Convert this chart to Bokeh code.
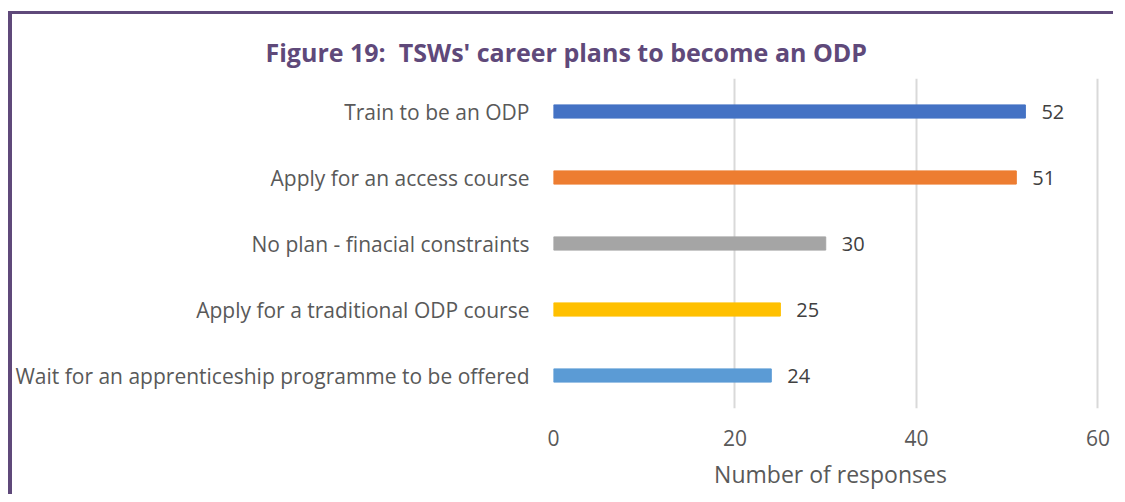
from bokeh.plotting import figure
from bokeh.models import ColumnDataSource, FactorRange, Range1d, FixedTicker
from bokeh.core.properties import value
from bokeh.embed import file_html
from bokeh.resources import INLINE

title_text = "Figure 19:\u00a0\u00a0TSWs' career plans to become an ODP"
categories = [
    "Train to be an ODP",
    "Apply for an access course",
    "No plan - finacial constraints",
    "Apply for a traditional ODP course",
    "Wait for an apprenticeship programme to be offered",
]
responses = [52, 51, 30, 25, 24]
bar_colors = ["#4472C4", "#ED7D31", "#A5A5A5", "#FFC000", "#5B9BD5"]
x_ticks = [0, 20, 40, 60]
x_label = "Number of responses"

FONT = "Open Sans"
TEXT = "#595959"
PURPLE = "#5F497A"

source = ColumnDataSource(dict(
    cat=categories,
    val=responses,
    color=bar_colors,
    lbl=[str(v) for v in responses],
))

p = figure(
    width=1105, height=483,
    y_range=FactorRange(*list(reversed(categories))),
    x_range=Range1d(0, 61.05),
    output_backend="svg", toolbar_location=None,
    min_border_left=541, min_border_right=10,
    min_border_top=64, min_border_bottom=89,
    styles={"border-left": f"4px solid {PURPLE}", "border-top": f"3px solid {PURPLE}",
            "margin-top": "11px", "margin-left": "8px"},
)
p.outline_line_color = None
p.background_fill_color = "white"
p.border_fill_color = "white"

p.title.text = title_text
p.title.align = "left"
p.title.offset = -288
p.title.standoff = 20
p.title.text_font = FONT
p.title.text_font_size = "25px"
p.title.text_font_style = "bold"
p.title.text_color = PURPLE

p.hbar(y="cat", right="val", left=0, height=0.2, color="color", source=source)

p.text(x="val", y="cat", text="lbl", source=source, x_offset=16,
       text_baseline="middle", text_align="left",
       text_font=value(FONT), text_font_size="20px", text_color="#404040")

p.xgrid.grid_line_color = "#D9D9D9"
p.xgrid.grid_line_width = 2
p.xgrid.ticker = FixedTicker(ticks=x_ticks)
p.ygrid.grid_line_color = None

p.xaxis.ticker = FixedTicker(ticks=x_ticks)
p.xaxis.axis_line_color = None
p.xaxis.major_tick_line_color = None
p.xaxis.minor_tick_line_color = None
p.xaxis.major_label_text_font = FONT
p.xaxis.major_label_text_font_size = "21px"
p.xaxis.major_label_text_color = TEXT
p.xaxis.major_label_standoff = 15
p.xaxis.axis_label = x_label
p.xaxis.axis_label_text_font = FONT
p.xaxis.axis_label_text_font_size = "23px"
p.xaxis.axis_label_text_font_style = "normal"
p.xaxis.axis_label_text_color = TEXT
p.xaxis.axis_label_standoff = 9

p.yaxis.axis_line_color = None
p.yaxis.major_tick_line_color = None
p.yaxis.minor_tick_line_color = None
p.yaxis.major_label_text_font = FONT
p.yaxis.major_label_text_font_size = "21px"
p.yaxis.major_label_text_color = TEXT
p.yaxis.major_label_standoff = 18

open("out.html", "w").write(file_html(p, INLINE))
